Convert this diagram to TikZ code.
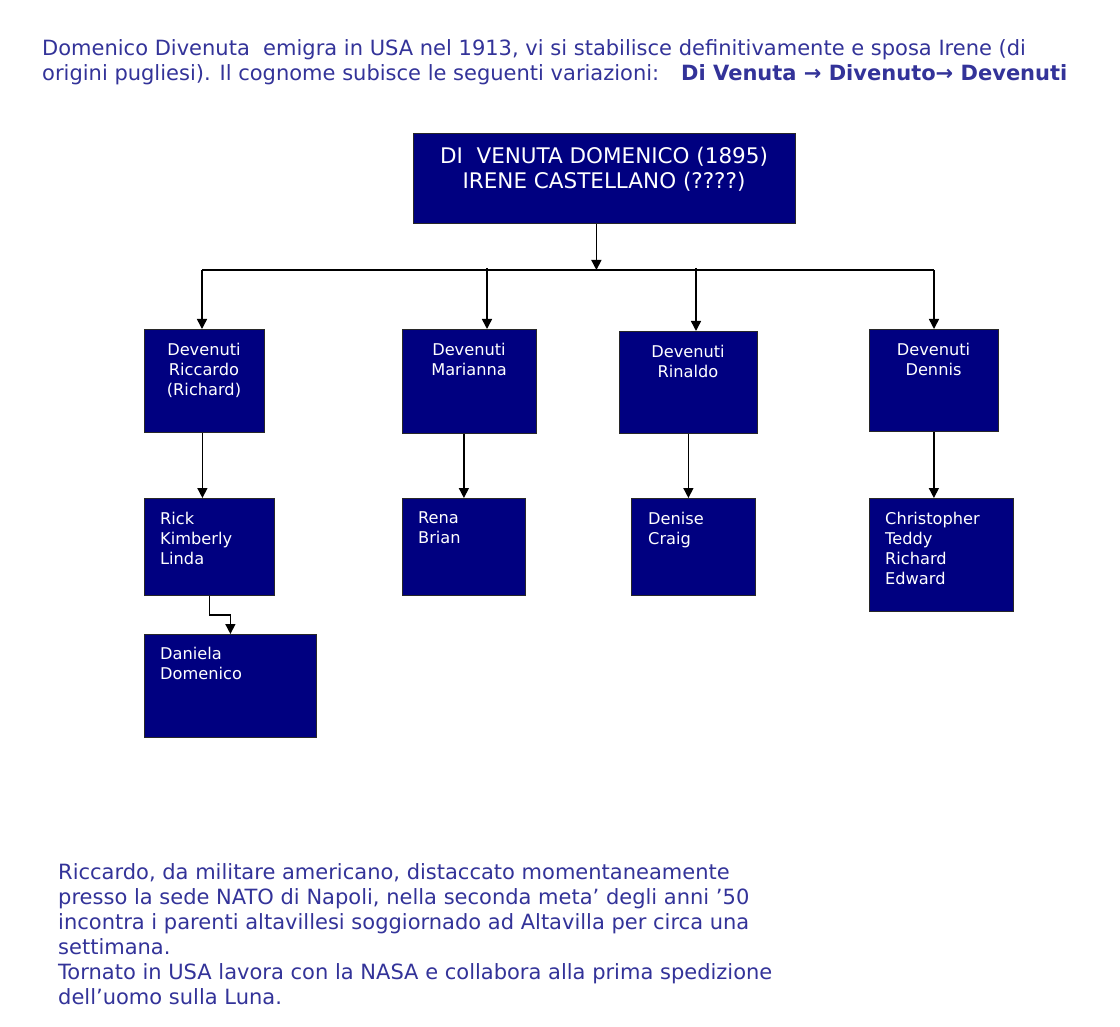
\documentclass[tikz,border=0pt]{standalone}
\usepackage{fontspec}
\setmainfont{DejaVu Sans}
\usetikzlibrary{arrows.meta}
\definecolor{navybox}{RGB}{0,0,128}
\definecolor{txtblue}{RGB}{51,51,153}
\definecolor{edgegray}{RGB}{40,40,40}
\begin{document}
\begin{tikzpicture}[x=1pt,y=-1pt,
  fam/.style={draw=edgegray, line width=0.8pt, fill=navybox, inner sep=0pt, anchor=north west},
  ftxt/.style={text=white, inner sep=0pt, font=\fontsize{16.2}{20}\selectfont},
  ctxt/.style={ftxt, align=center, anchor=north},
  ltxt/.style={ftxt, align=left, anchor=north west},
  btxt/.style={text=txtblue, inner sep=0pt},
  conn/.style={line width=1.5pt, black},
  arr/.style={conn, -{Triangle[length=10pt,width=10pt]}}]
\useasboundingbox[fill=white] (0,0) rectangle (1120,1027);

% title
\node[btxt, anchor=base west, font=\fontsize{21}{25}\selectfont] (t1) at (42,56)
  {Domenico Divenuta\ \ emigra in USA nel 1913, vi si stabilisce definitivamente e sposa Irene (di};
\node[btxt, anchor=base west, font=\fontsize{21}{25}\selectfont] (t2) at (42,81)
  {origini pugliesi). Il cognome subisce le seguenti variazioni:};
\node[btxt, anchor=base west, font=\fontsize{21}{25}\selectfont\bfseries] (t3) at (681,81)
  {Di Venuta → Divenuto→ Devenuti};

% top box
\node[fam, minimum width=382pt, minimum height=90pt] (top) at (413,133) {};
\node[ftxt, align=center, anchor=north, font=\fontsize{21.5}{25}\selectfont] (toptxt) at (604,147)
  {DI\ \ VENUTA DOMENICO (1895)\\IRENE CASTELLANO (????)};

% level 2
\node[fam, minimum width=120pt, minimum height=103pt] (r1) at (144,329) {};
\node[fam, minimum width=134pt, minimum height=104pt] (m1) at (402,329) {};
\node[fam, minimum width=138pt, minimum height=102pt] (n1) at (619,331) {};
\node[fam, minimum width=129pt, minimum height=102pt] (d1) at (869,329) {};
\node[ctxt] (r1t) at (204,342.5) {Devenuti\\Riccardo\\(Richard)};
\node[ctxt] (m1t) at (469,342.5) {Devenuti\\Marianna};
\node[ctxt] (n1t) at (688,344.5) {Devenuti\\Rinaldo};
\node[ctxt] (d1t) at (933.5,342.5) {Devenuti\\Dennis};

% level 3
\node[fam, minimum width=130pt, minimum height=97pt] (r2) at (144,498) {};
\node[fam, minimum width=123pt, minimum height=97pt] (m2) at (402,498) {};
\node[fam, minimum width=124pt, minimum height=97pt] (n2) at (631,498) {};
\node[fam, minimum width=144pt, minimum height=113pt] (d2) at (869,498) {};
\node[ltxt] (r2t) at (160,511.5) {Rick\\Kimberly\\Linda};
\node[ltxt] (m2t) at (418,511.5) {Rena\\Brian};
\node[ltxt] (n2t) at (648,511.5) {Denise\\Craig};
\node[ltxt] (d2t) at (885,511.5) {Christopher\\Teddy\\Richard\\Edward};

% level 4
\node[fam, minimum width=172pt, minimum height=103pt] (r3) at (144,634) {};
\node[ltxt] (r3t) at (160,647) {Daniela\\Domenico};

% connectors
\coordinate (hl) at (202,270);
\coordinate (hr) at (934,270);
\coordinate (v2) at (487,268);
\coordinate (v3) at (696,268);
\draw[arr] ([xshift=-8pt]top.south) -- ([xshift=-8pt]top.south |- hl);
\draw[conn] (hl) -- (hr);
\draw[arr] (hl) -- (hl |- r1.north);
\draw[arr] (v2) -- (v2 |- m1.north);
\draw[arr] (v3) -- (v3 |- n1.north);
\draw[arr] (hr) -- (hr |- d1.north);

\draw[arr] ([xshift=-2pt]r1.south) -- ([xshift=-2pt]r1.south |- r2.north);
\draw[arr] (m2.north |- m1.south) -- (m2.north);
\draw[arr] (n1.south) -- (n1.south |- n2.north);
\draw[arr] (d1.south) -- (d1.south |- d2.north);
\draw[arr] (r2.south) -- ++(0,19) -| (r3.north);

% bottom note
\node[btxt, align=left, anchor=north west, font=\fontsize{21}{25}\selectfont] (note) at (58,863)
  {Riccardo, da militare americano, distaccato momentaneamente\\
   presso la sede NATO di Napoli, nella seconda meta’ degli anni ’50\\
   incontra i parenti altavillesi soggiornado ad Altavilla per circa una\\
   settimana.\\
   Tornato in USA lavora con la NASA e collabora alla prima spedizione\\
   dell’uomo sulla Luna.};
\end{tikzpicture}
\end{document}
